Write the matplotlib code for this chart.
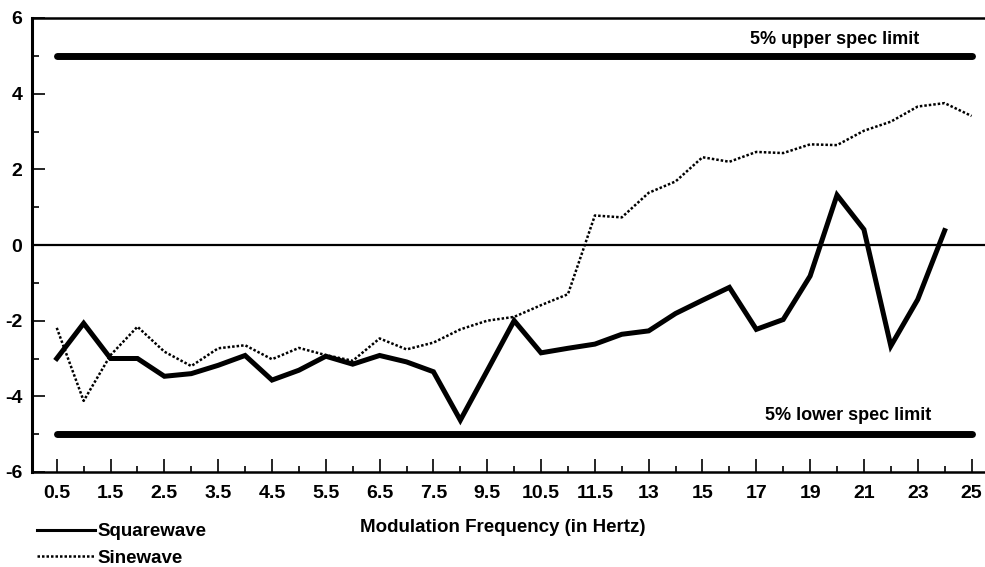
import matplotlib
matplotlib.use("Agg")
import matplotlib.pyplot as plt
from matplotlib.lines import Line2D
import numpy as np

plt.rcParams['font.family'] = ['Liberation Sans', 'DejaVu Sans']
plt.rcParams['axes.unicode_minus'] = False

# Modulation frequencies (Hz), one category per measurement
frequencies = ["0.5", "1", "1.5", "2", "2.5", "3", "3.5", "4", "4.5", "5",
               "5.5", "6", "6.5", "7", "7.5", "8.5", "9.5", "10", "10.5", "11",
               "11.5", "12", "13", "14", "15", "16", "17", "18", "19", "20",
               "21", "22", "23", "24", "25"]

# Percent deviation for each waveform
squarewave = [-3.0, -2.07, -3.0, -3.0, -3.47, -3.40, -3.18, -2.92, -3.57, -3.31,
              -2.94, -3.15, -2.92, -3.09, -3.35, -4.63, -3.32, -2.0, -2.85, -2.73,
              -2.62, -2.36, -2.27, -1.81, -1.46, -1.12, -2.23, -1.97, -0.82, 1.32,
              0.41, -2.67, -1.44, 0.38, None]
sinewave = [-2.19, -4.12, -2.91, -2.16, -2.82, -3.20, -2.73, -2.65, -3.02, -2.72,
            -2.91, -3.06, -2.47, -2.76, -2.58, -2.23, -2.0, -1.90, -1.59, -1.30,
            0.78, 0.73, 1.38, 1.68, 2.32, 2.20, 2.46, 2.43, 2.66, 2.64,
            3.02, 3.26, 3.66, 3.75, 3.41]

upper_spec = 5
lower_spec = -5
upper_label = "5% upper spec limit"
lower_label = "5% lower spec limit"

x = np.arange(len(frequencies))
sq = np.array([np.nan if v is None else v for v in squarewave], dtype=float)
sn = np.array(sinewave, dtype=float)

fig = plt.figure(figsize=(9.85, 5.67), dpi=100)
ax = fig.add_axes([32 / 985, 1 - 472 / 567, 1 - 32 / 985, (472 - 18) / 567])

# Spec limits
ax.plot([x[0], x[-1]], [upper_spec, upper_spec], color="black", lw=5,
        solid_capstyle="round", zorder=3)
ax.plot([x[0], x[-1]], [lower_spec, lower_spec], color="black", lw=5,
        solid_capstyle="round", zorder=3)
ax.text(28.9, upper_spec + 0.2, upper_label, ha="center", va="bottom",
        fontsize=13, fontweight="bold")
ax.text(29.4, lower_spec + 0.28, lower_label, ha="center", va="bottom",
        fontsize=13, fontweight="bold")

# Zero reference
ax.axhline(0, color="black", lw=1.6, zorder=2)

# Series
ax.plot(x, sn, color="black", lw=1.8, linestyle=(0, (1.0, 0.8)), zorder=4)
ax.plot(x, sq, color="black", lw=3.6, solid_joinstyle="miter", zorder=5)

ax.set_xlim(-0.92, 34.5)
ax.set_ylim(-6, 6)

# Axes frame
ax.spines["right"].set_visible(False)
ax.spines["left"].set_linewidth(2.2)
ax.spines["bottom"].set_linewidth(1.8)
ax.spines["top"].set_linewidth(1.8)

ax.set_xticks(x[::2])
ax.set_xticklabels(frequencies[::2])
ax.set_xticks(x[1::2], minor=True)
ax.set_yticks([-6, -4, -2, 0, 2, 4, 6])
ax.set_yticks([-5, -3, -1, 1, 3, 5], minor=True)
ax.tick_params(axis="x", which="major", direction="in", length=9.5, width=1.2,
               pad=9, labelsize=14)
ax.tick_params(axis="x", which="minor", direction="in", length=4, width=1.2)
ax.tick_params(axis="y", which="major", direction="in", length=9.5, width=1.2,
               pad=7, labelsize=14)
ax.tick_params(axis="y", which="minor", direction="in", length=5, width=1.2)
for lab in ax.get_xticklabels() + ax.get_yticklabels():
    lab.set_fontweight("bold")

fig.text(503 / 985, 1 - 527 / 567, "Modulation Frequency (in Hertz)",
         ha="center", va="center", fontsize=13.5, fontweight="bold")

handles = [Line2D([], [], color="black", lw=2.2),
           Line2D([], [], color="black", lw=1.8, linestyle=(0, (1.0, 0.8)))]
fig.legend(handles, ["Squarewave", "Sinewave"], loc="upper left",
           bbox_to_anchor=(37 / 985, 1 - 523 / 567), frameon=False,
           handlelength=3.1, handletextpad=0.12, labelspacing=0.5,
           prop={"size": 13.5, "weight": "bold"}, borderaxespad=0, borderpad=0)

fig.savefig("out.png", dpi=100)
